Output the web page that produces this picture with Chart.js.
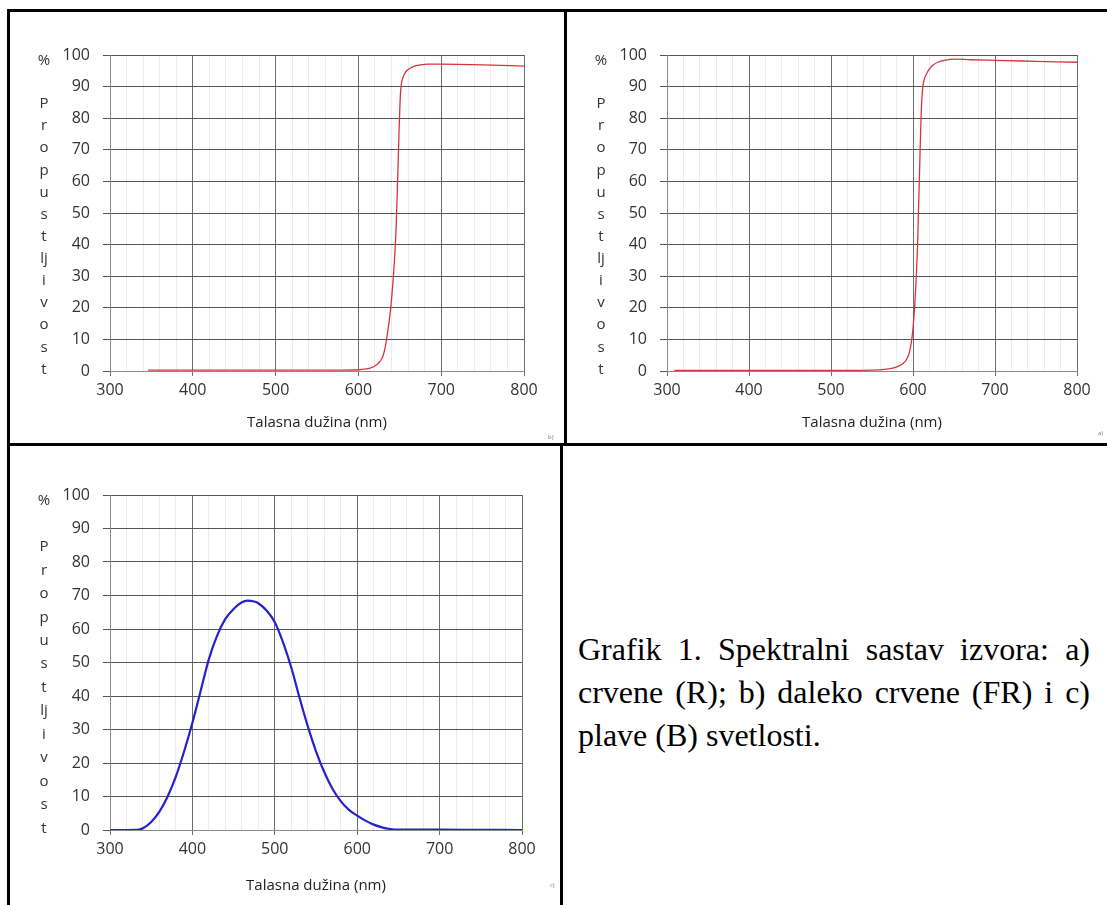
<!DOCTYPE html>
<html>
<head>
<meta charset="utf-8">
<script src="https://cdn.jsdelivr.net/npm/chart.js@4/dist/chart.umd.min.js"></script>
<style>
  body { margin: 0; background: #fff; width: 1107px; height: 905px; position: relative; overflow: hidden; }
  .box { position: absolute; }
  .line { position: absolute; background: #000; }
  .tag { position: absolute; font: 6px "Open Sans", sans-serif; color: #777; }
  .caption { position: absolute; left: 578px; top: 628px; width: 512px; font-family: "Liberation Serif", "Times New Roman", serif; font-size: 32px; line-height: 43px; color: #000; }
  .caption div { text-align: justify; text-align-last: justify; white-space: nowrap; }
  .caption div.last { text-align-last: left; }
</style>
</head>
<body>

<div class="line" style="left:8px;top:9px;width:1099px;height:3px"></div>
<div class="line" style="left:7px;top:9px;width:3px;height:896px"></div>
<div class="line" style="left:564px;top:9px;width:3px;height:437px"></div>
<div class="line" style="left:7px;top:443px;width:1100px;height:3px"></div>
<div class="line" style="left:560px;top:443px;width:3px;height:462px"></div>

<div class="box" style="left:12px;top:12px;width:550px;height:430px"><canvas id="chartB"></canvas></div>
<div class="box" style="left:568px;top:12px;width:539px;height:430px"><canvas id="chartA"></canvas></div>
<div class="box" style="left:12px;top:446px;width:548px;height:459px"><canvas id="chartC"></canvas></div>

<div class="tag" style="left:548px;top:433px">b)</div>
<div class="tag" style="left:1098px;top:429px">a)</div>
<div class="tag" style="left:550px;top:881px">c)</div>

<div class="caption">
  <div>Grafik 1. Spektralni sastav izvora: a)</div>
  <div>crvene (R); b) daleko crvene (FR) i c)</div>
  <div class="last">plave (B) svetlosti.</div>
</div>

<script>
// b) daleko crvena (gore levo)
const farRedNm  = [346, 400, 500, 580, 600, 610, 615, 620, 625, 628, 630, 632, 634, 636, 638, 640, 642, 644, 645.5, 647, 648, 649, 650, 651, 652, 654, 656, 659, 663, 668, 675, 685, 700, 750, 800];
const farRedPct = [0.3, 0.3, 0.3, 0.3, 0.4, 0.7, 1.0, 1.6, 2.7, 3.8, 5, 7, 10, 13.5, 17.5, 22.5, 29, 37, 45, 57, 66, 75, 83, 88.5, 91, 93, 94.2, 95.2, 95.9, 96.5, 96.9, 97.1, 97.1, 96.9, 96.5];

// a) crvena (gore desno)
const redNm  = [309, 400, 500, 550, 565, 575, 580, 585, 590, 593, 596, 598.5, 600, 602, 604, 605.6, 606.6, 607.7, 608.7, 609.8, 610.8, 612, 614, 617, 620, 625, 630, 640, 650, 670, 700, 750, 800];
const redPct = [0.2, 0.2, 0.2, 0.3, 0.5, 0.9, 1.3, 1.9, 2.9, 4.1, 6.3, 10, 13.5, 20, 30, 40, 50, 60, 70, 80, 86, 90, 92.5, 94.3, 95.6, 96.9, 97.7, 98.4, 98.7, 98.5, 98.3, 98.0, 97.7];

// c) plava (dole levo)
const blueNm  = [300, 320, 335, 340, 350, 360, 370, 380, 390, 400, 410, 420, 430, 440, 450, 460, 467, 475, 480, 490, 500, 510, 520, 530, 540, 550, 560, 570, 580, 590, 600, 610, 620, 630, 640, 650, 700, 750, 800];
const bluePct = [0, 0, 0.1, 0.5, 2.4, 5.5, 10, 16, 23.5, 32, 41.5, 51, 58, 63, 66, 68, 68.5, 68.2, 67.7, 65.5, 62, 56, 48.5, 39.5, 31, 23.5, 17.3, 12.3, 8.6, 6, 4.3, 2.8, 1.6, 0.8, 0.3, 0.1, 0.1, 0.05, 0];

const xMin = 300, xMax = 800, xMinorStep = 20, xMajorStep = 100;
const yMin = 0, yMax = 100, yStep = 10;
const xTitle = "Talasna dužina (nm)";
const yUnit = "%";
const yLetters = ["P", "r", "o", "p", "u", "s", "t", "lj", "i", "v", "o", "s", "t"];

const FONT = "'Open Sans', sans-serif";

const toPoints = (xs, ys) => xs.map((x, i) => ({ x: x, y: ys[i] }));

// crta "%" i uspravno napisano "Propustljivost" levo od ose
const stackedLabel = {
  id: "stackedLabel",
  afterDraw(chart) {
    const ctx = chart.ctx;
    const y = chart.scales.y;
    const cx = chart.chartArea.left - 66;
    ctx.save();
    ctx.fillStyle = "#333";
    ctx.font = "15px " + FONT;
    ctx.textAlign = "center";
    ctx.textBaseline = "middle";
    ctx.fillText(yUnit, cx, y.getPixelForValue(98.3));
    yLetters.forEach((l, i) => {
      ctx.fillText(l, cx, y.getPixelForValue(84.5 - 7 * i));
    });
    ctx.restore();
  }
};

const makeChart = (id, points, color, width, pad, bottomSpace) => {
  return new Chart(document.getElementById(id), {
    type: "line",
    data: {
      datasets: [{
        data: points,
        borderColor: color,
        borderWidth: width,
        pointRadius: 0,
        fill: false,
        cubicInterpolationMode: "monotone"
      }]
    },
    options: {
      responsive: true,
      maintainAspectRatio: false,
      animation: false,
      layout: { padding: { left: pad.left, right: pad.right, top: pad.top, bottom: 0 } },
      plugins: { legend: { display: false }, tooltip: { enabled: false } },
      scales: {
        x: {
          type: "linear",
          min: xMin,
          max: xMax,
          afterBuildTicks: (scale) => {
            const t = [];
            for (let v = xMin; v <= xMax; v += xMinorStep) t.push({ value: v });
            scale.ticks = t;
          },
          afterFit: (scale) => { scale.height = bottomSpace; },
          ticks: {
            autoSkip: false,
            maxRotation: 0,
            padding: 5,
            color: "#333",
            font: { family: FONT, size: 16 },
            callback: (v) => (v % xMajorStep === 0 ? v : "")
          },
          grid: {
            color: (c) => (c.tick && c.tick.value % xMajorStep === 0 ? "#6e6e6e" : "#ececec"),
            tickColor: (c) => (c.tick && c.tick.value % xMajorStep === 0 ? "#6e6e6e" : "rgba(0,0,0,0)"),
            tickLength: 5,
            lineWidth: 1
          },
          border: { color: "#8a8a8a" },
          title: {
            display: true,
            text: xTitle,
            color: "#222",
            font: { family: FONT, size: 15 },
            padding: { top: 0, bottom: 10 }
          }
        },
        y: {
          min: yMin,
          max: yMax,
          afterFit: (scale) => { scale.width = 60; },
          ticks: {
            stepSize: yStep,
            padding: 13,
            color: "#333",
            font: { family: FONT, size: 16 }
          },
          grid: {
            color: "#555",
            tickColor: "#555",
            tickLength: 7,
            lineWidth: 1
          },
          border: { color: "#8a8a8a" }
        }
      }
    },
    plugins: [stackedLabel]
  });
};

makeChart("chartB", toPoints(farRedNm, farRedPct), "#d8343e", 1.3, { left: 38, right: 38, top: 43 }, 71);
makeChart("chartA", toPoints(redNm, redPct), "#d8343e", 1.3, { left: 39, right: 30, top: 43 }, 71);
makeChart("chartC", toPoints(blueNm, bluePct), "#2323c8", 2.2, { left: 38, right: 38, top: 49 }, 75);
</script>
</body>
</html>
